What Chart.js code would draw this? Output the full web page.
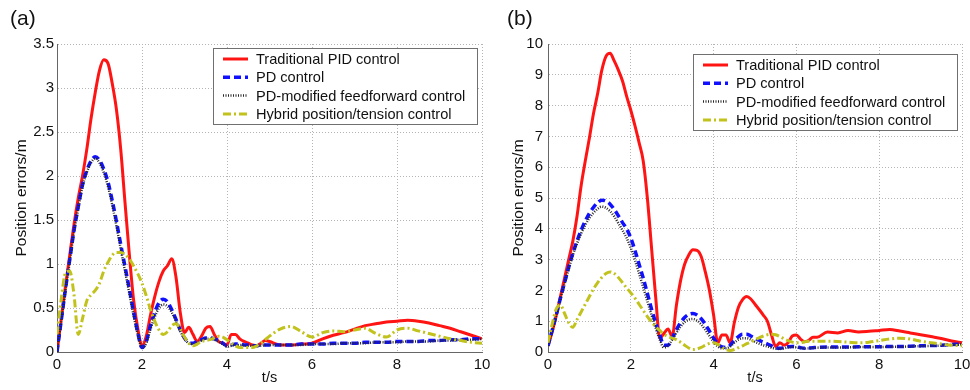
<!DOCTYPE html>
<html>
<head>
  <meta charset="UTF-8">
  <title>Position errors</title>
  <script src="https://cdn.jsdelivr.net/npm/chart.js"></script>
  <style>
    body { margin: 0; background: #fff; width: 970px; height: 390px; overflow: hidden; position: relative; font-family: "Liberation Sans", Arial, sans-serif; }
    canvas { position: absolute; top: 0; }
    #ca { left: 0; z-index: 1; }
    #cb { left: 485px; z-index: 2; }
    .tag { position: absolute; top: 6px; font-size: 21px; color: #111; z-index: 3; }
  </style>
</head>
<body>
  <div class="tag" style="left:10px">(a)</div>
  <div class="tag" style="left:507px">(b)</div>
  <canvas id="ca" width="500" height="390"></canvas>
  <canvas id="cb" width="485" height="390"></canvas>
  <script>
    const labels = ['Traditional PID control', 'PD control', 'PD-modified feedforward control', 'Hybrid position/tension control'];

    // panel (a)
    const tA = [0,0.1,0.2,0.3,0.4,0.5,0.6,0.7,0.8,0.9,1.0,1.1,1.2,1.3,1.4,1.5,1.6,1.7,1.8,1.9,2.0,2.1,2.2,2.3,2.4,2.5,2.6,2.7,2.8,2.9,3.0,3.1,3.2,3.3,3.4,3.5,3.6,3.7,3.8,3.9,4.0,4.1,4.2,4.3,4.4,4.5,4.6,4.7,4.8,4.9,5.0,
      5.25,5.5,5.75,6.0,6.25,6.5,6.75,7.0,7.25,7.5,7.75,8.0,8.25,8.5,8.75,9.0,9.25,9.5,9.75,10];
    const pidA = [0,0.38,0.75,1.1,1.45,1.75,2.0,2.3,2.65,2.95,3.2,3.32,3.28,3.05,2.75,2.3,1.7,1.12,0.6,0.27,0.07,0.18,0.42,0.63,0.8,0.92,0.98,1.06,0.85,0.45,0.22,0.28,0.2,0.12,0.18,0.27,0.29,0.2,0.12,0.1,0.08,0.2,0.2,0.15,0.12,0.1,0.08,0.07,0.1,0.13,0.12,
      0.08,0.08,0.09,0.1,0.15,0.19,0.22,0.26,0.3,0.32,0.34,0.35,0.36,0.35,0.33,0.3,0.27,0.23,0.19,0.15];
    const pdA = [0,0.36,0.72,1.05,1.38,1.65,1.9,2.06,2.17,2.22,2.18,2.08,1.93,1.72,1.48,1.22,0.97,0.72,0.46,0.22,0.05,0.12,0.3,0.45,0.56,0.6,0.57,0.48,0.37,0.25,0.16,0.11,0.1,0.12,0.14,0.16,0.16,0.15,0.13,0.1,0.07,0.08,0.09,0.09,0.08,0.08,0.07,0.07,0.08,0.08,0.08,
      0.08,0.08,0.09,0.09,0.09,0.1,0.1,0.1,0.11,0.11,0.11,0.12,0.12,0.12,0.13,0.13,0.14,0.14,0.15,0.15];
    const ffA = [0,0.35,0.7,1.03,1.36,1.63,1.88,2.04,2.15,2.2,2.15,2.04,1.88,1.67,1.43,1.17,0.92,0.67,0.42,0.2,0.05,0.1,0.26,0.4,0.5,0.54,0.52,0.45,0.35,0.24,0.15,0.1,0.09,0.11,0.13,0.15,0.15,0.14,0.12,0.09,0.06,0.07,0.08,0.08,0.08,0.07,0.07,0.07,0.07,0.08,0.08,
      0.08,0.08,0.08,0.09,0.09,0.09,0.1,0.1,0.1,0.11,0.11,0.11,0.12,0.12,0.12,0.13,0.13,0.14,0.14,0.15];
    const hybA = [0.2,0.6,0.9,0.92,0.65,0.2,0.38,0.58,0.65,0.7,0.78,0.92,1.02,1.1,1.13,1.13,1.11,1.06,0.98,0.89,0.78,0.64,0.48,0.35,0.25,0.2,0.23,0.3,0.32,0.26,0.17,0.1,0.07,0.09,0.12,0.13,0.14,0.16,0.18,0.17,0.14,0.1,0.07,0.05,0.05,0.05,0.05,0.07,0.1,0.14,0.18,
      0.26,0.29,0.23,0.17,0.22,0.24,0.23,0.25,0.27,0.21,0.17,0.25,0.27,0.24,0.21,0.18,0.15,0.13,0.11,0.1];

    // panel (b)
    const tB = [0,0.1,0.2,0.3,0.4,0.5,0.6,0.7,0.8,0.9,1.0,1.1,1.2,1.3,1.4,1.5,1.6,1.7,1.8,1.9,2.0,2.1,2.2,2.3,2.4,2.5,2.6,2.7,2.8,2.9,3.0,3.1,3.2,3.3,3.4,3.5,3.6,3.7,3.8,3.9,4.0,4.1,4.2,4.3,4.4,4.5,4.6,4.7,4.8,4.9,5.0,5.1,5.2,5.3,5.4,5.5,5.6,5.7,5.8,5.9,6.0,6.1,6.2,6.3,6.4,6.5,
      6.75,7.0,7.25,7.5,7.75,8.0,8.25,8.5,8.75,9.0,9.25,9.5,9.75,10];
    const pidB = [0.2,0.65,1.2,1.8,2.4,3.0,3.6,4.4,5.4,6.2,6.95,7.75,8.4,9.15,9.6,9.7,9.45,9.15,8.8,8.3,7.85,7.35,6.8,6.2,5.0,3.4,1.8,0.45,0.6,0.75,0.5,1.5,2.3,2.85,3.15,3.32,3.3,3.1,2.6,2.0,1.2,0.3,0.55,0.55,0.3,0.95,1.45,1.7,1.8,1.72,1.55,1.38,1.2,1.0,0.55,0.18,0.3,0.22,0.3,0.52,0.55,0.42,0.33,0.38,0.48,0.48,
      0.65,0.62,0.7,0.65,0.67,0.7,0.73,0.68,0.62,0.56,0.5,0.44,0.36,0.3];
    const pdB = [0.2,0.7,1.2,1.75,2.25,2.75,3.2,3.6,3.95,4.25,4.5,4.7,4.85,4.93,4.9,4.8,4.63,4.42,4.2,4.0,3.7,3.3,2.85,2.4,1.9,1.4,0.95,0.55,0.22,0.22,0.45,0.72,0.95,1.12,1.22,1.25,1.2,1.08,0.9,0.68,0.45,0.27,0.17,0.15,0.22,0.38,0.5,0.58,0.58,0.52,0.45,0.38,0.32,0.26,0.2,0.14,0.12,0.14,0.17,0.18,0.17,0.14,0.12,0.13,0.14,0.15,
      0.16,0.16,0.16,0.17,0.17,0.17,0.18,0.18,0.19,0.2,0.21,0.22,0.24,0.26];
    const ffB = [0.2,0.68,1.18,1.72,2.22,2.7,3.15,3.52,3.85,4.12,4.35,4.52,4.65,4.72,4.68,4.57,4.4,4.18,3.95,3.7,3.38,2.98,2.55,2.1,1.65,1.2,0.78,0.4,0.15,0.2,0.4,0.62,0.82,0.97,1.05,1.07,1.02,0.9,0.72,0.52,0.33,0.18,0.12,0.12,0.18,0.3,0.4,0.45,0.45,0.4,0.33,0.27,0.22,0.18,0.14,0.11,0.1,0.12,0.15,0.16,0.15,0.13,0.11,0.12,0.13,0.14,
      0.15,0.15,0.15,0.16,0.16,0.16,0.17,0.17,0.18,0.19,0.2,0.21,0.23,0.25];
    const hybB = [0.3,0.9,1.4,1.52,1.25,0.95,0.8,1.05,1.3,1.55,1.8,2.05,2.25,2.42,2.55,2.6,2.55,2.42,2.25,2.08,1.92,1.75,1.55,1.35,1.15,0.98,0.82,0.7,0.58,0.5,0.45,0.4,0.32,0.22,0.13,0.08,0.1,0.15,0.22,0.28,0.3,0.25,0.16,0.08,0.05,0.08,0.14,0.2,0.27,0.33,0.4,0.46,0.52,0.56,0.58,0.56,0.5,0.43,0.37,0.32,0.3,0.3,0.33,0.35,0.35,0.35,
      0.35,0.34,0.32,0.3,0.32,0.37,0.42,0.45,0.42,0.35,0.3,0.26,0.22,0.2];

    const styles = [
      { color: '#ff1414', width: 3, dash: [], order: 4 },
      { color: '#1010ff', width: 3.5, dash: [7, 4], order: 3 },
      { color: '#262626', width: 2.5, dash: [1, 1.5], order: 2 },
      { color: '#c2c21c', width: 3, dash: [8, 3, 2, 3], order: 1 }
    ];

    const font = '"Liberation Sans", Arial, sans-serif';

    const boxLegend = {
      id: 'boxLegend',
      afterDatasetsDraw(chart, args, opts) {
        const ctx = chart.ctx;
        const a = chart.chartArea;
        const x = a.right - opts.right - 264, y = a.top + opts.top;
        ctx.save();
        ctx.fillStyle = '#fff';
        ctx.fillRect(x, y, 264, 76);
        ctx.strokeStyle = '#707070';
        ctx.lineWidth = 1;
        ctx.strokeRect(x + 0.5, y + 0.5, 264, 76);
        ctx.font = '14.6px ' + font;
        ctx.textBaseline = 'middle';
        chart.data.datasets.forEach((ds, i) => {
          const ry = y + 11 + i * 18.3;
          ctx.strokeStyle = ds.borderColor;
          ctx.lineWidth = ds.borderWidth;
          ctx.setLineDash(ds.borderDash);
          ctx.beginPath();
          ctx.moveTo(x + 10, ry);
          ctx.lineTo(x + 35, ry);
          ctx.stroke();
          ctx.setLineDash([]);
          ctx.fillStyle = '#111';
          ctx.fillText(ds.label, x + 43, ry + 1);
        });
        ctx.restore();
      }
    };

    function makeChart(id, t, series, yMax, yStep, lay) {
      const datasets = series.map((vals, i) => ({
        label: labels[i],
        data: t.map((x, j) => ({ x: x, y: vals[j] })),
        borderColor: styles[i].color,
        borderWidth: styles[i].width,
        borderDash: styles[i].dash,
        order: styles[i].order,
        pointRadius: 0,
        fill: false,
        tension: 0.4,
        cubicInterpolationMode: 'monotone'
      }));
      return new Chart(document.getElementById(id), {
        type: 'line',
        data: { datasets },
        plugins: [boxLegend],
        options: {
          responsive: false,
          animation: false,
          devicePixelRatio: 1,
          layout: { padding: { left: 0, right: lay.right, top: 44, bottom: 0 } },
          plugins: {
            legend: { display: false },
            tooltip: { enabled: false },
            boxLegend: { right: 5, top: lay.legendTop }
          },
          scales: {
            x: {
              type: 'linear',
              min: 0, max: 10,
              ticks: { stepSize: 2, padding: 4, color: '#111', font: { size: 15, family: font } },
              grid: { color: '#b4b4b4', drawTicks: false },
              border: { color: '#666', width: 1, dash: [1, 2] },
              title: { display: true, text: 't/s', color: '#111', font: { size: 14.5, family: font }, padding: { top: 0, bottom: 3 } },
              afterFit(s) { s.height = 38; s.paddingLeft = 0; s.paddingRight = 0; }
            },
            y: {
              min: 0, max: yMax,
              ticks: {
                stepSize: yStep, padding: lay.tickPad, color: '#111', font: { size: 15, family: font },
                callback: v => String(Math.round(v * 10) / 10)
              },
              grid: { color: '#b4b4b4', drawTicks: false },
              border: { color: '#666', width: 1, dash: [1, 2] },
              title: { display: true, text: 'Position errors/m', color: '#111', font: { size: 15.5, family: font }, padding: { top: lay.titlePad, bottom: 0 } },
              afterFit(s) { s.width = lay.yWidth; s.paddingTop = 0; s.paddingBottom = 0; }
            }
          }
        }
      });
    }

    makeChart('ca', tA, [pidA, pdA, ffA, hybA], 3.5, 0.5, { right: 18, yWidth: 57, tickPad: 3, titlePad: 12, legendTop: 4 });
    makeChart('cb', tB, [pidB, pdB, ffB, hybB], 10, 1, { right: 8, yWidth: 63, tickPad: 5, titlePad: 24, legendTop: 10 });
  </script>
</body>
</html>
